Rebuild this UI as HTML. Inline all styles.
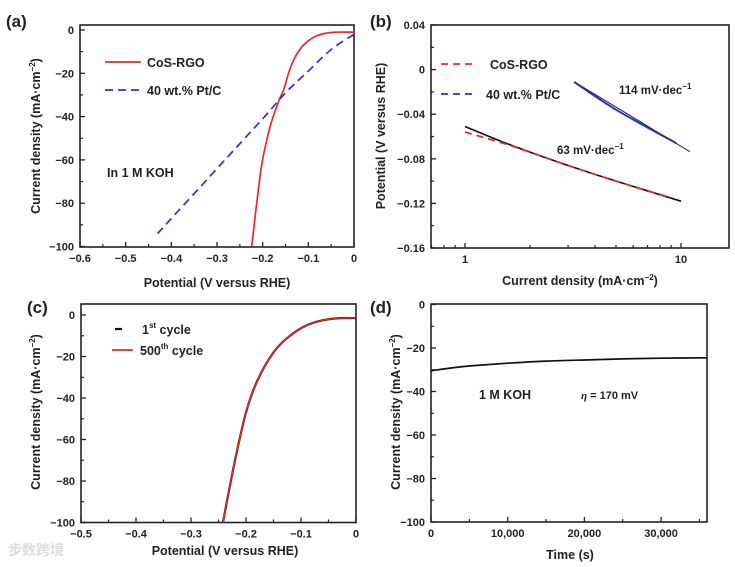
<!DOCTYPE html>
<html><head><meta charset="utf-8"><style>
html,body{margin:0;padding:0;background:#fff;}
svg{display:block;font-family:"Liberation Sans",Arial,sans-serif;font-weight:bold;}
</style></head><body>
<svg id="fig" width="735" height="567" viewBox="0 0 735 567" xmlns="http://www.w3.org/2000/svg"></svg>
<script>
// ---- Panel (a) data ----
const aCosV = [0,-0.04,-0.065,-0.085,-0.1,-0.115,-0.13,-0.142,-0.153,-0.165,-0.18,-0.19,-0.202,-0.213,-0.224];
const aCosJ = [-1,-1,-1.6,-3,-5,-8,-13,-19,-27,-33,-42,-50,-62,-80,-100];
const aPtV = [0,-0.05,-0.1,-0.15,-0.2,-0.3,-0.43];
const aPtJ = [-2,-9,-19,-29,-41,-64,-94];
const aXTicks = [-0.6,-0.5,-0.4,-0.3,-0.2,-0.1,0];
const aXLabels = ["\u22120.6","\u22120.5","\u22120.4","\u22120.3","\u22120.2","\u22120.1","0"];
const aYTicks = [0,-20,-40,-60,-80,-100];
const aYLabels = ["0","\u221220","\u221240","\u221260","\u221280","\u2212100"];
// ---- Panel (b) data ----
const bCosI = [1,1.5,2,3,5,9];
const bCosE = [-0.056,-0.066,-0.074,-0.086,-0.1,-0.115];
const bCosFitI = [1,1.5,2,3,5,10];
const bCosFitE = [-0.051,-0.065,-0.074,-0.086,-0.1,-0.118];
const bPtI = [3.2,5,9.5];
const bPtE = [-0.011,-0.036,-0.066];
const bPtFitI = [3.2,11];
const bPtFitE = [-0.011,-0.0736];
const bYTicks = [0.04,0,-0.04,-0.08,-0.12,-0.16];
const bYLabels = ["0.04","0","\u22120.04","\u22120.08","\u22120.12","\u22120.16"];
const bXTicks = [1,10];
const bXLabels = ["1","10"];
// ---- Panel (c) data ----
const cV = [0,-0.03,-0.06,-0.09,-0.12,-0.15,-0.18,-0.2,-0.22,-0.242];
const cJ1 = [-1.5,-1.5,-2.5,-5,-10,-18,-32,-47,-70,-100];
const cJ500 = [-1.5,-1.5,-2.5,-5,-10,-18,-32,-47,-70,-100];
const cXTicks = [-0.5,-0.4,-0.3,-0.2,-0.1,0];
const cXLabels = ["\u22120.5","\u22120.4","\u22120.3","\u22120.2","\u22120.1","0"];
const cYTicks = [0,-20,-40,-60,-80,-100];
const cYLabels = ["0","\u221220","\u221240","\u221260","\u221280","\u2212100"];
// ---- Panel (d) data ----
const dT = [0,3000,6000,10000,15000,20000,25000,30000,36000];
const dJ = [-30.5,-29,-28,-27,-26,-25.5,-25,-24.7,-24.5];
const dXTicks = [0,10000,20000,30000];
const dXLabels = ["0","10,000","20,000","30,000"];
const dYTicks = [0,-20,-40,-60,-80,-100];
const dYLabels = ["0","\u221220","\u221240","\u221260","\u221280","\u2212100"];

const NS="http://www.w3.org/2000/svg";
const svg=document.getElementById('fig');
function mk(tag,attrs,parent,text){const e=document.createElementNS(NS,tag);for(const k in attrs)e.setAttribute(k,attrs[k]);if(text!==undefined)e.textContent=text;(parent||svg).appendChild(e);return e;}
function lin(d0,d1,r0,r1){return v=>r0+(v-d0)/(d1-d0)*(r1-r0);}
function logs(d0,d1,r0,r1){return v=>r0+(Math.log10(v)-Math.log10(d0))/(Math.log10(d1)-Math.log10(d0))*(r1-r0);}
function path(xs,ys,sx,sy){
  const p=xs.map((v,i)=>[sx(v),sy(ys[i])]);
  let d='M'+p[0][0].toFixed(1)+','+p[0][1].toFixed(1);
  for(let i=0;i<p.length-1;i++){
    const p0=p[Math.max(0,i-1)],p1=p[i],p2=p[i+1],p3=p[Math.min(p.length-1,i+2)];
    const c1=[p1[0]+(p2[0]-p0[0])/6,p1[1]+(p2[1]-p0[1])/6];
    const c2=[p2[0]-(p3[0]-p1[0])/6,p2[1]-(p3[1]-p1[1])/6];
    d+=' C'+c1[0].toFixed(1)+','+c1[1].toFixed(1)+' '+c2[0].toFixed(1)+','+c2[1].toFixed(1)+' '+p2[0].toFixed(1)+','+p2[1].toFixed(1);
  }
  return d;
}

function panel(name,L,T,R,B,sx,sy,xt,xl,yt,yl,yminor,xminor){
  const g=mk('g',{});
  
  
  const fr=mk('rect',{x:L,y:T,width:R-L,height:B-T,fill:'none',stroke:'#222','stroke-width':1.6},g);
  
  
  xt.forEach((v,i)=>{const x=sx(v);
    mk('line',{x1:x,y1:B,x2:x,y2:B-5,stroke:'#222','stroke-width':1.3},g);
    const t=mk('text',{x:x,y:B+15,'font-size':11,'text-anchor':'middle',fill:'#222'},g,xl[i]);
    
    });
  yt.forEach((v,i)=>{const y=sy(v);
    mk('line',{x1:L,y1:y,x2:L+5,y2:y,stroke:'#222','stroke-width':1.3},g);
    const t=mk('text',{x:L-6,y:y+4,'font-size':11,'text-anchor':'end',fill:'#222'},g,yl[i]);
    
    });
  (yminor||[]).forEach(v=>{const y=sy(v);mk('line',{x1:L,y1:y,x2:L+3,y2:y,stroke:'#222','stroke-width':1.2},g);});
  (xminor||[]).forEach(v=>{const x=sx(v);mk('line',{x1:x,y1:B,x2:x,y2:B-3,stroke:'#222','stroke-width':1.2},g);});
  return g;
}
function txt(name,x,y,s,size,extra){const t=mk('text',Object.assign({x:x,y:y,'font-size':size,fill:'#222'},extra||{}),svg);t.innerHTML=s;
  
  return t;}
function line(name,d,color,w,dash){const p=mk('path',{d:d,fill:'none',stroke:color,'stroke-width':w,'stroke-linejoin':'round'});if(dash)p.setAttribute('stroke-dasharray',dash);
  
  return p;}

// Panel a
{const L=80,R=354,T=25,B=247;const sx=lin(-0.6,0,L,R),sy=lin(0,-100,30,246.5);
 panel('panel-a',L,T,R,B,sx,sy,aXTicks,aXLabels,aYTicks,aYLabels,[-10,-30,-50,-70,-90],[-0.55,-0.45,-0.35,-0.25,-0.15,-0.05]);
 line('series-cos-rgo',path(aCosV,aCosJ,sx,sy),'#e8282b',1.7);
 line('series-pt-c',path(aPtV,aPtJ,sx,sy),'#2233dd',1.7,'8,5');
 line('legend-cos-line','M105,62 L141,62','#e8282b',1.7);
 txt('legend-cos-label',147,67,'CoS-RGO',12.5);
 line('legend-pt-line','M105,90 L141,90','#2233dd',1.7,'8,5');
 txt('legend-pt-label',147,95,'40 wt.% Pt/C',12.5);
 txt('annotation-koh',107,177,'In 1 M KOH',12.5);
 txt('panel-label-a',6,27,'(a)',17);
 txt('x-axis-title-a',217,287,'Potential (V versus RHE)',12.5,{'text-anchor':'middle'});
 txt('y-axis-title-a',0,0,'Current density (mA·cm<tspan dy="-5" font-size="8">−2</tspan><tspan dy="5">)</tspan>',12.5,{'text-anchor':'middle',transform:'translate(40,136) rotate(-90)'});
}
// Panel b
{const L=431,R=729,T=25,B=248;const sx=logs(1,10,465,681),sy=lin(0.04,-0.16,25,248);
 const minor=[0.7,0.8,0.9,2,3,4,5,6,7,8,9];
 panel('panel-b',L,T,R,B,sx,sy,bXTicks,bXLabels,bYTicks,bYLabels,[0.02,-0.02,-0.06,-0.1,-0.14],minor);
 line('fit-cos-rgo',path(bCosFitI,bCosFitE,sx,sy),'#111',1.6);
 line('series-cos-rgo-tafel',path(bCosI,bCosE,sx,sy),'#e8282b',1.8,'7,5');
 line('series-pt-c-tafel',path(bPtI,bPtE,sx,sy),'#2233dd',2);
 line('fit-pt-c',path(bPtFitI,bPtFitE,sx,sy),'#333',1.1);
 line('legend-cos-line-b','M441,64 L477,64','#e8282b',1.8,'7,5');
 txt('legend-cos-label-b',490,69,'CoS-RGO',12.5);
 line('legend-pt-line-b','M441,94 L477,94','#2233dd',1.8,'7,5');
 txt('legend-pt-label-b',486,99,'40 wt.% Pt/C',12.5);
 txt('tafel-slope-pt',619,94,'114 mV·dec<tspan dy="-5" font-size="8">−1</tspan>',11.5);
 txt('tafel-slope-cos',557,154,'63 mV·dec<tspan dy="-5" font-size="8">−1</tspan>',11.5);
 txt('panel-label-b',370,27,'(b)',17);
 txt('x-axis-title-b',580,285,'Current density (mA·cm<tspan dy="-5" font-size="8">−2</tspan><tspan dy="5">)</tspan>',12.5,{'text-anchor':'middle'});
 txt('y-axis-title-b',0,0,'Potential (V versus RHE)',12.5,{'text-anchor':'middle',transform:'translate(385,136) rotate(-90)'});
}
// Panel c
{const L=81,R=356,T=304,B=522.5;const sx=lin(-0.5,0,L,R),sy=lin(0,-100,315,522.5);
 panel('panel-c',L,T,R,B,sx,sy,cXTicks,cXLabels,cYTicks,cYLabels,[-10,-30,-50,-70,-90],[-0.45,-0.35,-0.25,-0.15,-0.05]);
 line('series-1st-cycle',path(cV,cJ1,sx,sy),'#111',2.2);
 line('series-500th-cycle',path(cV,cJ500,sx,sy),'#e8282b',1.5);
 line('legend-1st-line','M115,329 L122,329','#111',2.2);
 txt('legend-1st-label',142,334,'1<tspan dy="-6" font-size="8">st</tspan><tspan dy="6"> cycle</tspan>',12.5);
 line('legend-500-line','M112,350 L133,350','#e8282b',1.8);
 txt('legend-500-label',140,355,'500<tspan dy="-6" font-size="8">th</tspan><tspan dy="6"> cycle</tspan>',12.5);
 txt('panel-label-c',27,313,'(c)',17);
 txt('x-axis-title-c',225,555,'Potential (V versus RHE)',12.5,{'text-anchor':'middle'});
 txt('y-axis-title-c',0,0,'Current density (mA·cm<tspan dy="-5" font-size="8">−2</tspan><tspan dy="5">)</tspan>',12.5,{'text-anchor':'middle',transform:'translate(40,412) rotate(-90)'});
 txt('watermark',8,555,'\u6B65\u6570\u8DE8\u5883',14,{fill:'#ddd','font-family':'"Noto Sans CJK SC",sans-serif'});
}
// Panel d
{const L=431,R=707,T=304,B=522;const sx=lin(0,10000,431,507.7),sy=lin(0,-100,304.5,522);
 panel('panel-d',L,T,R,B,sx,sy,dXTicks,dXLabels,dYTicks,dYLabels,[-10,-30,-50,-70,-90],[5000,15000,25000,35000]);
 line('series-stability',path(dT,dJ,sx,sy),'#111',1.7);
 txt('annotation-koh-d',479,399,'1 M KOH',12.5);
 txt('annotation-eta',581,399,'<tspan font-family="Liberation Serif" font-style="italic">η</tspan> = 170 mV',11);
 txt('panel-label-d',370,313,'(d)',17);
 txt('x-axis-title-d',570,559,'Time (s)',12.5,{'text-anchor':'middle'});
 txt('y-axis-title-d',0,0,'Current density (mA·cm<tspan dy="-5" font-size="8">−2</tspan><tspan dy="5">)</tspan>',12.5,{'text-anchor':'middle',transform:'translate(400,412) rotate(-90)'});
}
</script>
</body></html>
